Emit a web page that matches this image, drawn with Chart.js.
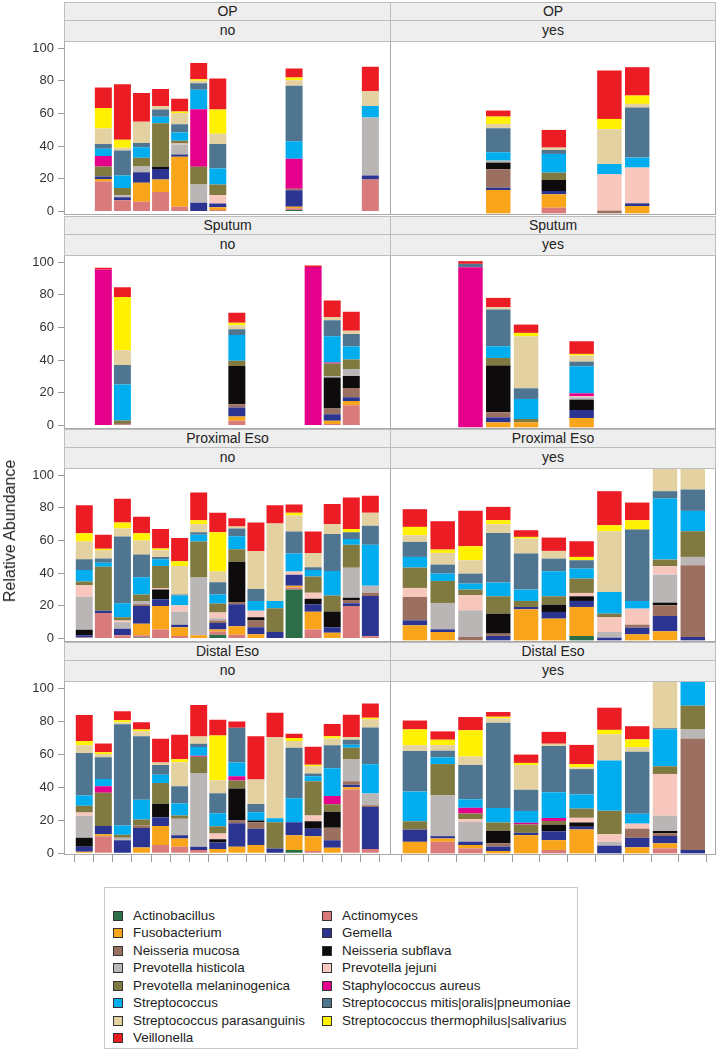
<!DOCTYPE html>
<html>
<head>
<meta charset="utf-8">
<script src="https://cdn.jsdelivr.net/npm/chart.js@4.4.1/dist/chart.umd.min.js"></script>
<style>
body { margin: 0; background: #fff; font-family: "Liberation Sans", Arial, sans-serif; }
#page { position: relative; width: 719px; height: 1050px; overflow: hidden; }
.abs { position: absolute; box-sizing: border-box; }
.strip { background: #eeeeee; border: 1px solid #bdbdbd; text-align: center; font-size: 14px; color: #222; z-index: 3; }
.frame { border: 1px solid #a8a8a8; pointer-events: none; z-index: 2; }
.ylab { font-size: 16px; color: #222; white-space: nowrap; transform: translate(-50%, -50%) rotate(-90deg); }
.legend { border: 1px solid #c8c8c8; }
.sw { width: 10px; height: 10px; border: 1px solid #333; }
.lt { font-size: 13.4px; color: #222; white-space: nowrap; line-height: 16px; }
</style>
</head>
<body>
<div id="page"></div>
<script>
// stacking order, bottom to top (also legend order)
const species = [
  'Actinobacillus', 'Actinomyces', 'Fusobacterium', 'Gemella',
  'Neisseria mucosa', 'Neisseria subflava', 'Prevotella histicola', 'Prevotella jejuni',
  'Prevotella melaninogenica', 'Staphylococcus aureus', 'Streptococcus',
  'Streptococcus mitis|oralis|pneumoniae', 'Streptococcus parasanguinis',
  'Streptococcus thermophilus|salivarius', 'Veillonella'
];
const colors = [
  '#2b6e48', '#d97b7b', '#f9a51b', '#2b3591', '#9b7061', '#0d0b0b', '#bab6b6', '#f7c6bc',
  '#807940', '#e5008c', '#00aeef', '#4f7590', '#e4d1a1', '#fff100', '#ec1c24'
];
const sites = ['OP', 'Sputum', 'Proximal Eso', 'Distal Eso'];
const groups = ['no', 'yes'];
const yTicks = [0, 20, 40, 60, 80, 100];

// one entry per subject slot, values in species order (null = no sample)
const opNo = [
  null,
  [0, 18.4, 1.6, 1.4, 0, 0, 0, 0, 6.2, 6.4, 4.4, 3, 9.4, 12.6, 12.6],
  [0, 7, 0, 1.8, 0, 0, 1.2, 0, 4.4, 0, 7.6, 15.4, 1.6, 5, 34],
  [0, 6, 11.6, 6.4, 0, 0, 3.6, 0, 5.4, 0, 6.4, 2.6, 13, 0, 17.6],
  [0, 12, 7.6, 6.4, 0, 1.4, 0, 0, 26.6, 0, 4, 4.4, 2, 0, 10.6],
  [0, 3, 30.6, 1.4, 0, 0, 6, 0.6, 1.8, 0, 5, 5, 7, 0.8, 7.8],
  [0, 0, 0, 5.4, 0, 0, 11.2, 0, 10.8, 35.2, 12, 4, 1.4, 1, 10],
  [0, 1, 1.6, 2.4, 0, 0, 0, 5, 6.6, 0, 9.8, 15, 6.2, 14.8, 19],
  null, null, null,
  [1, 1, 1, 10, 1, 0, 0, 0, 0, 18.4, 10.6, 34, 3.4, 1.6, 5.6],
  null, null, null,
  [0, 19.6, 0, 2.4, 0, 0, 35.6, 0, 0, 0, 7, 0, 9, 0, 15]
];
const opYes = [
  null, null, null,
  [0, 0, 14, 1.4, 11, 4, 1.2, 0, 0, 0, 5, 14.4, 2.6, 4.4, 3.6],
  null,
  [0, 3.4, 8, 2, 0, 6.6, 0, 0, 4.4, 0, 11.2, 2.4, 1.4, 0, 10.6],
  null,
  [0, 0, 0, 0, 1.6, 0, 0, 21.8, 0, 0, 6.2, 0, 20.8, 6.2, 29],
  [0, 0, 4.4, 1.6, 0, 0, 0, 21.4, 0, 0, 6, 30, 2.2, 5, 17],
  null, null
];
const sputumNo = [
  null,
  [0, 0, 0, 0, 0, 0, 0, 0, 0, 95.6, 0, 0, 0, 0, 1],
  [0, 0.5, 0, 0, 1, 0, 0, 0, 1.6, 0, 22, 12, 9, 32.6, 6],
  null, null, null, null, null,
  [0, 3, 2.6, 5.4, 2, 23.4, 0, 0, 3.2, 0, 15.8, 3.6, 2.4, 1.6, 6],
  null, null, null,
  [0, 0, 0, 0, 0, 0, 0, 0, 0, 97, 0, 0, 0, 0, 1],
  [0, 1, 2, 4, 3.4, 19, 1, 0, 7.6, 0.6, 16, 9.8, 2, 0, 10.2],
  [0, 12.4, 2.6, 2.4, 5.6, 7.4, 4.2, 0, 5.8, 0, 8, 7.6, 2, 0, 11.6],
  null
];
const sputumYes = [
  null, null,
  [0, 0, 0, 0, 0, 0, 0, 0, 0, 96, 0, 2, 0, 0, 1.6],
  [0, 0, 3, 3, 3, 28, 0, 0, 4.6, 0, 7, 22, 1.4, 0, 5.6],
  [0, 0, 3, 0, 0, 0, 0, 0, 2, 0, 12, 6.4, 31.2, 2, 5],
  null,
  [0, 0, 5.6, 4.8, 0, 6.2, 1.4, 0.6, 0, 1.8, 16.2, 2.8, 3.6, 1, 7.6],
  null, null, null, null
];
const proxNo = [
  [0, 0.6, 0, 1.4, 0, 3.4, 20.2, 7, 2.4, 0, 7, 6.6, 10.8, 5, 17.2],
  [0, 15.6, 0, 1.4, 0, 0, 0, 0, 27, 0, 2.4, 2.6, 5, 1, 8.6],
  [0, 2, 0, 4, 0, 0, 4, 1, 2, 0, 8.6, 40.8, 5, 3.6, 14.6],
  [0.6, 1.4, 7, 11, 1, 0, 2, 0, 4, 0, 10.6, 13.8, 8.6, 4.4, 10.2],
  [0, 5.6, 14.4, 4, 0, 6, 0, 1, 13.4, 0, 4.2, 1.4, 4, 1.2, 11.8],
  [0, 1.6, 5.4, 1.4, 0, 0, 8, 4, 0, 0, 6, 0.6, 17.4, 3, 14.2],
  [0, 0, 2, 0, 0, 0, 35.4, 0, 22, 0, 4.2, 1.4, 5, 2.4, 17],
  [2.4, 2, 1.2, 4, 1.4, 0, 1.4, 3.6, 5.4, 0, 5.6, 7.4, 6.6, 24, 12],
  [0, 2.4, 5.2, 13.4, 1.4, 24.6, 0, 0, 7.6, 0, 8, 4.8, 1.2, 0, 5],
  [0, 0, 2.6, 4.4, 4, 2, 0, 4, 0, 0, 6, 7.4, 23.2, 0, 17.4],
  [0, 0, 0, 4, 0, 0, 0, 0, 14.6, 0, 4.4, 0, 47.4, 0, 11.2],
  [30, 1.2, 1.2, 6.6, 0, 0, 0, 2, 0, 0, 11, 13.6, 9.8, 1.6, 5],
  [0, 5.6, 10.8, 4.6, 0, 3.4, 0, 3.6, 10, 0, 4, 1.6, 8.8, 0, 13.2],
  [0, 0, 3.6, 3.4, 0, 9.6, 0, 0, 9.8, 0, 15, 22.6, 6, 0, 12.4],
  [0, 20, 0, 1.6, 2, 1.4, 18.4, 0, 14, 0, 3.6, 4, 0, 2, 19.4],
  [0, 1.4, 0, 24.6, 2, 0, 4.4, 0, 0, 0, 25, 11.6, 8, 0, 10.4]
];
const proxYes = [
  [0, 0, 9, 3, 14, 0, 0, 5.4, 12.2, 0, 6.4, 9, 4, 5, 10.6],
  [0, 0, 5, 1.6, 0, 0, 15.8, 0, 13.2, 0, 4.4, 5.4, 7, 2, 17],
  [0, 0, 0, 0, 2, 0, 16, 9, 3.4, 0, 3.6, 6, 8, 8.4, 21.2],
  [0, 0, 0, 2.6, 1.4, 12, 0, 0, 10.4, 0, 8.2, 29.8, 5.2, 2.4, 8],
  [0, 0, 18.6, 1.4, 0, 0, 0, 0, 3.6, 0, 6.8, 21.6, 9, 1, 4],
  [0, 0, 13, 4, 0, 4.4, 0, 0, 5, 0, 15, 7.6, 4.6, 0, 8],
  [2.6, 0, 17.4, 3.6, 0, 2.8, 0, 2, 8.6, 0, 6, 5, 0, 2, 9.4],
  [0, 0, 0, 1.6, 0, 0, 3.4, 9, 2, 0, 13, 0, 36.4, 3.6, 20.4],
  [0, 0, 3.6, 4, 1.8, 0, 0, 9.6, 0, 0, 4.6, 42.8, 0, 5.6, 10.6],
  [0, 0, 5.4, 9.2, 6.4, 1.6, 16.8, 5, 4, 0, 36.6, 4.4, 18, 0, 0],
  [0, 0, 0, 2, 43, 0, 5, 0, 15.4, 0, 12.2, 12.8, 15, 0, 0]
];
const distNo = [
  [0, 0, 1, 3, 0, 5.5, 13.3, 2, 4, 0, 6.3, 25.7, 4.6, 2.6, 15.8],
  [0, 10.3, 1.2, 5, 0, 0, 0, 0, 20.2, 4, 4.4, 13.1, 2, 1, 5.3],
  [0, 0, 0, 7.9, 0, 0, 1.6, 0, 1.8, 0, 5.5, 61.4, 1, 1.4, 5.5],
  [0, 0, 3.6, 11.7, 1.6, 0, 0, 0, 3.6, 0, 11.9, 38.6, 3, 1, 4.4],
  [0, 5, 11.5, 5.3, 0, 8.3, 0, 0, 12.5, 0, 5, 5.9, 1.6, 0, 14.3],
  [0, 4, 5, 2, 0, 0, 9.9, 0, 2, 0, 7.3, 10.5, 14.5, 1.8, 14.9],
  [0, 2, 0, 2, 0, 0, 44.6, 0, 9.9, 0.6, 5.3, 2, 4.4, 0, 19],
  [0, 0, 2.6, 4, 0, 2, 0, 3.4, 4.4, 0, 7.9, 12.1, 7.9, 27.1, 9.5],
  [0, 0, 4, 14.3, 1.6, 19.4, 0, 0, 4.8, 2.6, 8.3, 21, 0, 0, 3.8],
  [0, 0, 5, 9.9, 4, 1, 0, 0, 0, 0, 5, 5, 14.9, 0, 26.1],
  [0, 0, 0, 3, 0, 0, 0, 0, 15.8, 0, 2.4, 0, 49.1, 0, 14.9],
  [2, 0, 8.9, 7.9, 0, 0, 0, 0, 0, 0, 14.5, 30.7, 4, 1.8, 2.6],
  [0, 1.4, 8.9, 4.6, 0, 4.6, 0, 3.4, 20.8, 0, 3, 1.6, 4.4, 1, 10.9],
  [0, 0, 3.4, 4.6, 7.5, 9.7, 0, 0, 4.6, 5, 16.8, 13.9, 4, 1.4, 7.5],
  [0, 38.6, 1.4, 1.6, 2, 0, 13.3, 0, 7.1, 0, 1.8, 3, 1.6, 0, 13.5],
  [0, 2.6, 0, 25.5, 1, 0, 7.1, 0, 0, 0, 17.8, 22.2, 5, 1, 8.5]
];
const distYes = [
  [0, 0, 6.9, 7.3, 0, 0, 0, 0, 5, 0, 17.8, 24.4, 3.4, 9.5, 5.3],
  [0, 6.9, 2, 1.4, 0, 0, 24.4, 0, 18.8, 0, 4, 4, 3.4, 3.2, 5],
  [0, 3, 2, 2, 0, 0, 11.9, 1.6, 3.4, 3.4, 5.1, 20.6, 5, 15.8, 7.9],
  [0, 0, 1.4, 2.6, 2, 7.5, 0, 0, 5, 0, 8.7, 51.1, 2.6, 1, 2.8],
  [0, 0, 10.9, 1.4, 0, 0, 0, 0, 5, 1, 7.1, 12.7, 14.9, 1.2, 5],
  [0, 2, 5.9, 5.3, 0, 4, 0, 0, 2.2, 1.8, 15.4, 27.7, 1.4, 0, 7.1],
  [0, 0, 14.3, 1.6, 0, 2.6, 0, 2.8, 5.5, 0, 8.5, 15.2, 1, 2, 11.5],
  [0, 0, 0, 4.6, 0, 0, 2.4, 4.6, 13.9, 0, 30.1, 0, 15.8, 2.6, 13.3],
  [0, 0, 3.6, 5.7, 5.5, 0, 0, 3, 0, 0, 5.9, 37.2, 2.8, 4.6, 7.9],
  [0, 3, 3, 4.4, 1.6, 1.4, 9.1, 25.1, 4.6, 0, 22.2, 0.6, 30, 0, 0],
  [0, 0, 0, 2, 66.9, 0, 5.3, 0, 14.3, 0, 15, 0, 0, 0, 0]
];

const panels = [[opNo, opYes], [sputumNo, sputumYes], [proxNo, proxYes], [distNo, distYes]];

// layout
const FONT = '"Liberation Sans", Arial, sans-serif';
Chart.defaults.font.family = FONT;
const ROW_TOP = [41, 255, 468, 681];
const PLOT_H = 174;
const AXIS_W = 65;
const TICK_LEN = 7;
const COLS = [
  { x: 65, w: 325, min: -1.01, max: 16.03, bar: 0.89 },
  { x: 391, w: 324, min: -0.86, max: 10.8, bar: 0.88 }
];

const page = document.getElementById('page');
function box(cls, left, top, w, h, text) {
  const d = document.createElement('div');
  d.className = 'abs ' + cls;
  d.style.left = left + 'px'; d.style.top = top + 'px';
  if (w != null) d.style.width = w + 'px';
  if (h != null) d.style.height = h + 'px';
  if (text != null) d.textContent = text;
  page.appendChild(d);
  return d;
}

function makeChart(r, ci) {
  const bars = panels[r][ci];
  const c = COLS[ci];
  const bottom = r === ROW_TOP.length - 1;
  const axisW = ci === 0 ? AXIS_W : 0;
  const w = c.w + axisW;
  const h = 10 + PLOT_H + (bottom ? TICK_LEN : 0) + 10;
  const cv = document.createElement('canvas');
  cv.width = w; cv.height = h;
  cv.style.cssText = 'position:absolute;left:' + (c.x - axisW) + 'px;top:' + (ROW_TOP[r] - 10) + 'px;width:' + w + 'px;height:' + h + 'px';
  page.appendChild(cv);

  const datasets = species.map((name, s) => ({
    label: name,
    backgroundColor: colors[s],
    borderWidth: 0,
    categoryPercentage: 1,
    barPercentage: c.bar,
    data: bars.map((b, i) => (b && b[s] ? { x: i, y: b[s] } : null)).filter(Boolean)
  }));

  new Chart(cv, {
    type: 'bar',
    data: { datasets },
    options: {
      responsive: false,
      animation: false,
      layout: { padding: { top: 10, bottom: 10, left: 0, right: 0 } },
      plugins: { legend: { display: false }, tooltip: { enabled: false } },
      scales: {
        x: {
          type: 'linear', stacked: true, min: c.min, max: c.max, offset: false,
          display: bottom,
          afterBuildTicks: s => { s.ticks = bars.map((b, i) => ({ value: i })); },
          ticks: { display: false },
          grid: { drawOnChartArea: false, tickLength: TICK_LEN, color: '#9a9a9a' },
          border: { display: false }
        },
        y: {
          stacked: true, min: -1, max: 103.3,
          display: ci === 0,
          afterBuildTicks: s => { s.ticks = yTicks.map(v => ({ value: v })); },
          afterFit: s => { s.width = axisW; },
          ticks: { color: '#333', font: { size: 13 }, padding: 4 },
          grid: { drawOnChartArea: false, tickLength: 7, color: '#9a9a9a' },
          border: { display: false }
        }
      }
    }
  });
}

ROW_TOP.forEach((top, r) => {
  COLS.forEach((c, ci) => {
    makeChart(r, ci);
    const fl = c.x - 1, fw = c.w + 2;
    const s1 = box('strip', fl, top - 39, fw, 19, sites[r]);
    s1.style.lineHeight = '17px';
    const s2 = box('strip', fl, top - 21, fw, 22, groups[ci]);
    s2.style.lineHeight = '19px';
    box('frame', fl, top, fw, PLOT_H);
  });
});

box('ylab', 10, 531, null, null, 'Relative Abundance');

// legend
box('legend', 104, 887, 474, 162);
species.forEach((name, i) => {
  const col = i % 2, row = Math.floor(i / 2);
  const cy = 915.5 + row * 17.5;
  const sx = col === 0 ? 113 : 322;
  const tx = col === 0 ? 133 : 342;
  const sw = box('sw', sx, Math.round(cy - 5), 10, 10);
  sw.style.background = colors[i];
  box('lt', tx, Math.round(cy - 8), null, 16, name);
});
</script>
</body>
</html>
